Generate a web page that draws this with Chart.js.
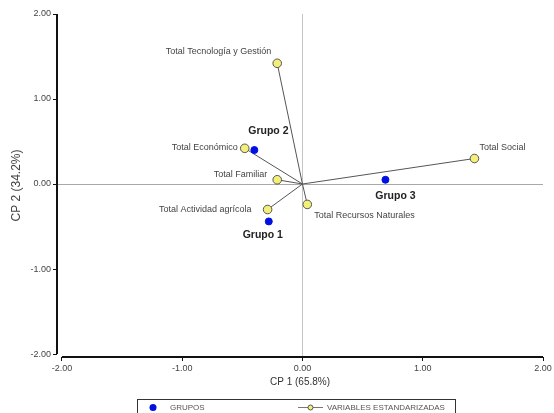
<!DOCTYPE html>
<html lang="es">
<head>
<meta charset="UTF-8">
<title>Biplot CP1 / CP2</title>
<script src="https://cdn.jsdelivr.net/npm/chart.js@4/dist/chart.umd.min.js"></script>
<style>
  html, body { margin: 0; padding: 0; background: #fff; }
  #wrap { width: 554px; height: 413px; position: relative; }
</style>
</head>
<body>
<div id="wrap"><canvas id="biplot"></canvas></div>
<script>
// variables estandarizadas (vectores desde el origen)
const varNames = ['Total Tecnología y Gestión', 'Total Económico', 'Total Familiar',
                  'Total Actividad agrícola', 'Total Recursos Naturales', 'Total Social'];
const varCP1 = [-0.21, -0.48, -0.21, -0.29, 0.04, 1.43];
const varCP2 = [1.42, 0.42, 0.05, -0.30, -0.24, 0.30];

// grupos
const groupNames = ['Grupo 1', 'Grupo 2', 'Grupo 3'];
const groupCP1 = [-0.28, -0.40, 0.69];
const groupCP2 = [-0.44, 0.40, 0.05];

const tickValues = [-2, -1, 0, 1, 2];

// desplazamiento de cada etiqueta respecto a su punto (px) y alineación
const varLabelPos = [[-6, -12, 'right'], [-7, -1, 'right'], [-10, -5, 'right'],
                     [-16, 0, 'right'], [7, 11, 'left'], [5, -11, 'left']];
const groupLabelPos = [[-6, 14], [14, -19], [10, 16]];

const FONT = 'Arial, "Liberation Sans", sans-serif';

const datasets = [];
varNames.forEach((name, i) => {
  datasets.push({
    label: name,
    type: 'line',
    data: [{ x: 0, y: 0 }, { x: varCP1[i], y: varCP2[i] }],
    borderColor: '#555',
    borderWidth: 1,
    pointRadius: [0, 4.3],
    pointBackgroundColor: '#f4ef78',
    pointBorderColor: '#555',
    pointBorderWidth: 1,
    order: 2
  });
});
datasets.push({
  label: 'GRUPOS',
  type: 'scatter',
  data: groupCP1.map((x, i) => ({ x: x, y: groupCP2[i] })),
  pointRadius: 3.5,
  pointBackgroundColor: '#0010e0',
  pointBorderColor: '#0010e0',
  order: 1
});

function fmt(v) { return Number(v).toFixed(2); }

const labelsPlugin = {
  id: 'biplotExtras',
  afterDraw(chart) {
    const { ctx, chartArea } = chart;
    const xs = chart.scales.x, ys = chart.scales.y;
    ctx.save();

    // ejes
    ctx.strokeStyle = '#111';
    ctx.lineWidth = 2;
    ctx.beginPath();
    ctx.moveTo(chartArea.left, ys.getPixelForValue(2));
    ctx.lineTo(chartArea.left, ys.getPixelForValue(-2));
    ctx.moveTo(xs.getPixelForValue(-2), chartArea.bottom);
    ctx.lineTo(xs.getPixelForValue(2), chartArea.bottom);
    ctx.stroke();

    // etiquetas de variables
    ctx.font = '9px ' + FONT;
    ctx.fillStyle = '#444';
    ctx.textBaseline = 'middle';
    varNames.forEach((name, i) => {
      const px = xs.getPixelForValue(varCP1[i]);
      const py = ys.getPixelForValue(varCP2[i]);
      const [dx, dy, align] = varLabelPos[i];
      ctx.textAlign = align;
      ctx.fillText(name, px + dx, py + dy);
    });

    // etiquetas de grupos
    ctx.font = 'bold 10.5px ' + FONT;
    ctx.fillStyle = '#222';
    ctx.textAlign = 'center';
    groupNames.forEach((name, i) => {
      const px = xs.getPixelForValue(groupCP1[i]);
      const py = ys.getPixelForValue(groupCP2[i]);
      const [dx, dy] = groupLabelPos[i];
      ctx.fillText(name, px + dx, py + dy);
    });

    // leyenda
    const lx = 137, ly = 399, lw = 318, lh = 16;
    ctx.lineWidth = 1;
    ctx.strokeStyle = '#333';
    ctx.strokeRect(lx + 0.5, ly + 0.5, lw, lh);
    const cy = ly + 8.5;
    ctx.fillStyle = '#0010e0';
    ctx.beginPath();
    ctx.arc(153, cy, 3.5, 0, Math.PI * 2);
    ctx.fill();
    ctx.font = '8px ' + FONT;
    ctx.fillStyle = '#555';
    ctx.textAlign = 'left';
    ctx.fillText('GRUPOS', 170, cy);
    ctx.strokeStyle = '#777';
    ctx.beginPath();
    ctx.moveTo(298, cy);
    ctx.lineTo(323, cy);
    ctx.stroke();
    ctx.fillStyle = '#f4ef78';
    ctx.strokeStyle = '#555';
    ctx.beginPath();
    ctx.arc(310.5, cy, 2.5, 0, Math.PI * 2);
    ctx.fill();
    ctx.stroke();
    ctx.fillStyle = '#555';
    ctx.fillText('VARIABLES ESTANDARIZADAS', 327, cy);

    ctx.restore();
  }
};

function zeroLine(color) {
  return (c) => (c.tick && c.tick.value === 0 ? color : 'rgba(0,0,0,0)');
}

new Chart(document.getElementById('biplot'), {
  type: 'scatter',
  data: { datasets: datasets },
  options: {
    responsive: true,
    maintainAspectRatio: false,
    animation: false,
    layout: { padding: { top: 14, right: 11, bottom: 20, left: 0 } },
    plugins: {
      legend: { display: false },
      tooltip: { enabled: false }
    },
    scales: {
      x: {
        type: 'linear',
        min: -2.041,
        max: 2,
        afterBuildTicks: (s) => { s.ticks = tickValues.map(v => ({ value: v })); },
        afterFit: (s) => { s.height = 36; },
        border: { display: false },
        grid: { color: zeroLine('#c4c4c4'), tickColor: '#111', tickLength: 4, lineWidth: 1 },
        ticks: { callback: fmt, color: '#444', font: { size: 9, family: FONT }, padding: 2, maxRotation: 0 },
        title: { display: true, text: 'CP 1 (65.8%)', color: '#333', font: { size: 10, family: FONT }, padding: { top: 0, bottom: 5 } }
      },
      y: {
        type: 'linear',
        min: -2.035,
        max: 2,
        afterBuildTicks: (s) => { s.ticks = tickValues.map(v => ({ value: v })); },
        afterFit: (s) => { s.width = 57; },
        border: { display: false },
        grid: { color: zeroLine('#a8a8a8'), tickColor: '#111', tickLength: 4, lineWidth: 1 },
        ticks: { callback: fmt, color: '#444', font: { size: 9, family: FONT }, padding: 2 },
        title: { display: true, text: 'CP 2 (34.2%)', color: '#444', font: { size: 12, family: FONT }, padding: { top: 9, bottom: 4 } }
      }
    }
  },
  plugins: [labelsPlugin]
});
</script>
</body>
</html>
